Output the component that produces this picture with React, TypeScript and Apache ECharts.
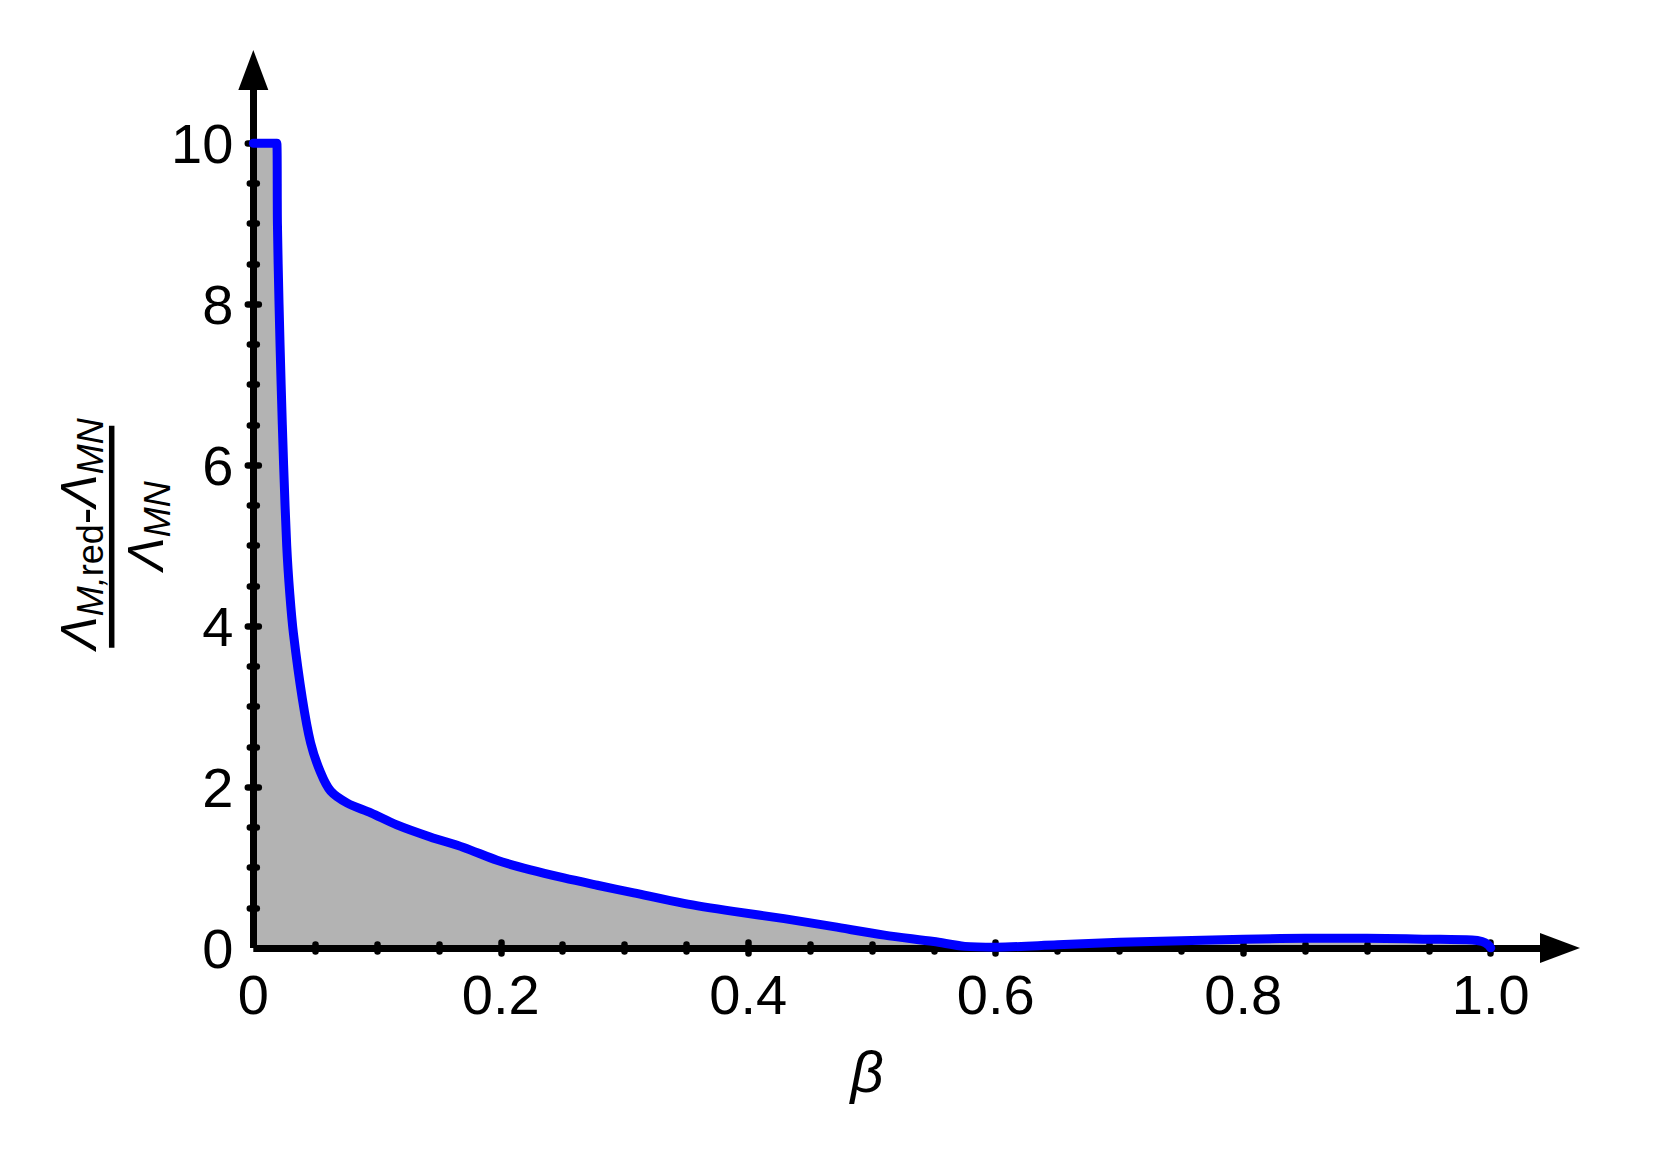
import React, { useEffect, useRef } from 'react';
import * as echarts from 'echarts';

// β values and the plotted ratio (Λ_M,red − Λ_MN)/Λ_MN
const BETA = [
  0, 0.019, 0.0195, 0.0208, 0.0225, 0.0245, 0.027, 0.0295, 0.0325, 0.0396, 0.0463,
  0.0544, 0.0625, 0.076, 0.095, 0.116, 0.143, 0.170, 0.197, 0.224, 0.251, 0.278,
  0.3075, 0.348, 0.388, 0.429, 0.469, 0.51, 0.55, 0.575, 0.6, 0.65, 0.70, 0.75,
  0.80, 0.85, 0.90, 0.95, 0.985, 0.993, 0.998, 1.0,
];
const RATIO = [
  10, 10, 9.0, 8.0, 7.0, 6.0, 5.0, 4.4, 3.9, 3.1, 2.55,
  2.18, 1.95, 1.80, 1.68, 1.53, 1.38, 1.25, 1.09, 0.97, 0.87, 0.78,
  0.685, 0.555, 0.455, 0.365, 0.265, 0.16, 0.08, 0.02, 0.01, 0.04, 0.07, 0.09,
  0.11, 0.12, 0.12, 0.11, 0.10, 0.08, 0.04, 0.0,
];

const X_LABELS = [0, 0.2, 0.4, 0.6, 0.8, 1.0];
const Y_LABELS = [0, 2, 4, 6, 8, 10];
const X_MINOR = [0.05, 0.1, 0.15, 0.25, 0.3, 0.35, 0.45, 0.5, 0.55, 0.65, 0.7, 0.75, 0.85, 0.9, 0.95];
const X_MAJOR = [0.2, 0.4, 0.6, 0.8, 1.0];
const Y_MINOR = [0.5, 1, 1.5, 2.5, 3, 3.5, 4.5, 5, 5.5, 6.5, 7, 7.5, 8.5, 9, 9.5];
const Y_MAJOR = [2, 4, 6, 8, 10];

const X_MAX = 1.056;
const Y_MAX = 10.91;

const FONT = 'Liberation Sans, Arial, Helvetica, sans-serif';

export default function App() {
  const ref = useRef<HTMLDivElement>(null);

  useEffect(() => {
    const chart = echarts.init(ref.current!, null, { renderer: 'svg' });
    const data = BETA.map((b, i) => [b, RATIO[i]]);

    const tickStyle = { color: '#000', width: 6.5, cap: 'round' };
    const mkX = (vals: number[], inside: boolean, len: number) => ({
      type: 'value', min: 0, max: X_MAX, position: 'bottom', z: 4,
      axisLine: { show: false, onZero: false },
      axisLabel: { show: false }, splitLine: { show: false },
      axisTick: { show: true, customValues: vals, inside, length: len, lineStyle: tickStyle },
    });
    const mkY = (vals: number[], inside: boolean, len: number) => ({
      type: 'value', min: 0, max: Y_MAX, position: 'left', z: 4,
      axisLine: { show: false, onZero: false },
      axisLabel: { show: false }, splitLine: { show: false },
      axisTick: { show: true, customValues: vals, inside, length: len, lineStyle: tickStyle },
    });

    const mainLine = { color: '#000', width: 7, cap: 'butt' };

    const shift = 12;
    const richBase = {
      L: { fontSize: 50, fontStyle: 'italic', fontFamily: FONT, color: '#000' },
      s: { fontSize: 36, fontStyle: 'italic', fontFamily: FONT, color: '#000', padding: [2 * shift, 0, 0, 0] },
      sr: { fontSize: 36, fontFamily: FONT, color: '#000', padding: [2 * shift, 0, 0, 0] },
      m: { fontSize: 50, fontFamily: FONT, color: '#000', padding: [10, 0, 0, 0] },
    };

    chart.setOption({
      animation: false,
      backgroundColor: '#ffffff',
      grid: { left: 253.3, right: 105, top: 70, bottom: 212 },
      xAxis: [
        {
          type: 'value', min: 0, max: X_MAX, position: 'bottom', z: 4,
          axisLine: { show: true, onZero: false, lineStyle: mainLine, symbol: ['none', 'triangle'], symbolSize: [30, 40] },
          axisTick: { show: false },
          splitLine: { show: false },
          axisLabel: {
            customValues: X_LABELS, margin: 18, fontSize: 56, fontFamily: FONT, color: '#000',
            formatter: (v: number) => (v === 0 ? '0' : v.toFixed(1)),
          },
        },
        mkX(X_MINOR, true, 3.5), mkX(X_MINOR, false, 3.5),
        mkX(X_MAJOR, true, 5.5), mkX(X_MAJOR, false, 5.5),
      ],
      yAxis: [
        {
          type: 'value', min: 0, max: Y_MAX, position: 'left', z: 4,
          axisLine: { show: true, onZero: false, lineStyle: mainLine, symbol: ['none', 'triangle'], symbolSize: [30, 40] },
          axisTick: { show: false },
          splitLine: { show: false },
          axisLabel: {
            customValues: Y_LABELS, margin: 20, fontSize: 56, fontFamily: FONT, color: '#000',
            formatter: (v: number) => String(v),
          },
        },
        mkY(Y_MINOR, true, 3.5), mkY(Y_MINOR, false, 3.5),
        mkY(Y_MAJOR, true, 5.5), mkY(Y_MAJOR, false, 5.5),
      ],
      series: [
        {
          type: 'line', data, xAxisIndex: 0, yAxisIndex: 0, z: 1,
          showSymbol: false, silent: true, smooth: 0.3,
          lineStyle: { width: 0, opacity: 0 },
          areaStyle: { color: '#b3b3b3', opacity: 1 },
        },
        {
          type: 'line', data, xAxisIndex: 0, yAxisIndex: 0, z: 6,
          showSymbol: false, silent: true, smooth: 0.3,
          lineStyle: { color: '#0000ff', width: 9, cap: 'round', join: 'round' },
        },
      ],
      graphic: [
        {
          type: 'group', x: 111.7, y: 536.7, rotation: Math.PI / 2,
          children: [
            { type: 'line', shape: { x1: -111, y1: 0, x2: 111, y2: 0 }, style: { stroke: '#000', lineWidth: 5.5 } },
            {
              type: 'text', x: 2.7, y: -3,
              style: {
                text: '{L|Λ}{s|M,}{sr|red}{m|-}{L|Λ}{s|MN}',
                rich: richBase, align: 'center', verticalAlign: 'bottom',
              },
            },
            {
              type: 'text', x: 10.7, y: 4,
              style: {
                text: '{L|Λ}{s|MN}',
                rich: richBase, align: 'center', verticalAlign: 'top',
              },
            },
          ],
        },
        {
          type: 'text', x: 867, y: 1071,
          style: {
            text: 'β', fontSize: 58, fontStyle: 'italic', fontFamily: FONT, fill: '#000',
            align: 'center', verticalAlign: 'middle',
          },
        },
      ],
    });

    return () => chart.dispose();
  }, []);

  return (
    <div
      ref={ref}
      style={{ position: 'absolute', left: 0, top: 0, width: 1665, height: 1160, background: '#fff' }}
    />
  );
}
